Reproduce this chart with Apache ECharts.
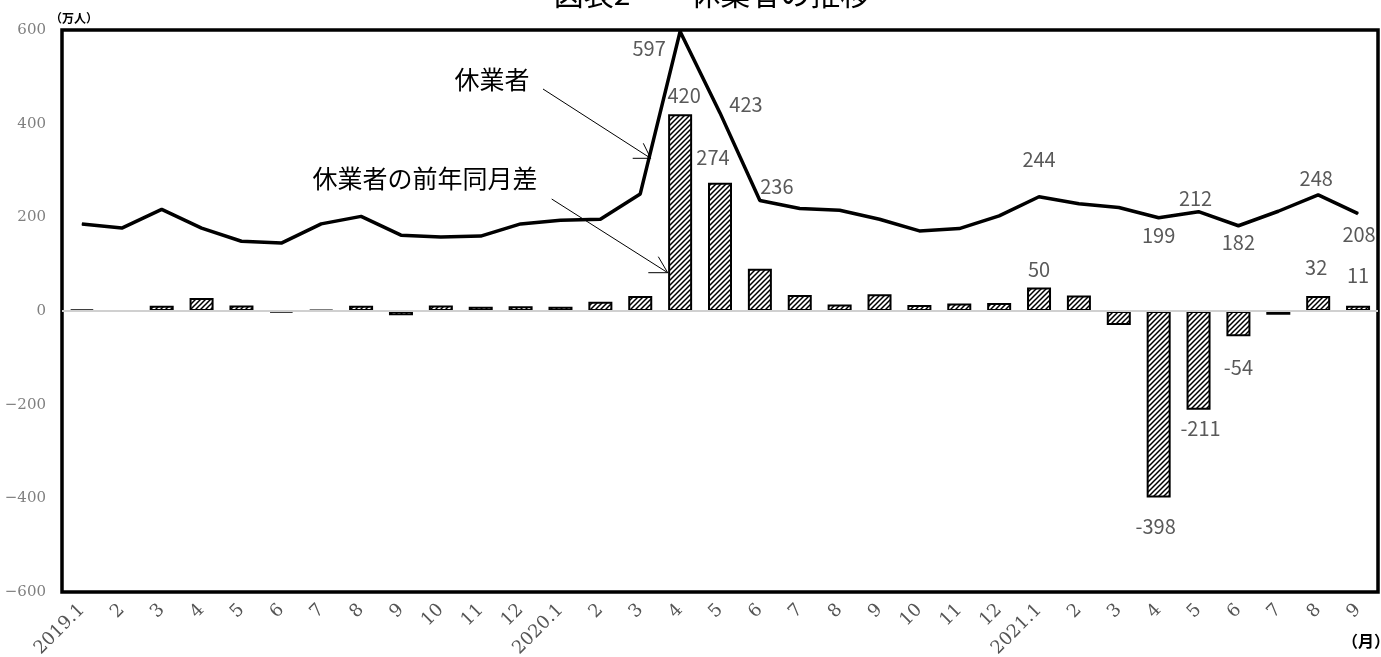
<!DOCTYPE html>
<html>
<head>
<meta charset="utf-8">
<title>休業者の推移</title>
<script src="https://cdn.jsdelivr.net/npm/echarts@6/dist/echarts.min.js"></script>
<style>
  html, body { margin: 0; padding: 0; background: #fff; }
  #chart { width: 1381px; height: 657px; }
</style>
</head>
<body>
<div id="chart"></div>
<script>
// Month labels, Jan 2019 – Sep 2021
const months = [
  '2019.1', '2', '3', '4', '5', '6', '7', '8', '9', '10', '11', '12',
  '2020.1', '2', '3', '4', '5', '6', '7', '8', '9', '10', '11', '12',
  '2021.1', '2', '3', '4', '5', '6', '7', '8', '9'
];

// 休業者 (万人)
const absentees = [
  186, 177, 217, 177, 149, 145, 186, 202, 162, 158, 160, 186,
  194, 196, 250, 597, 423, 236, 219, 215, 196, 171, 176, 203,
  244, 229, 221, 199, 212, 182, 213, 248, 208
];

// 休業者の前年同月差 (万人)
const yoyChange = [
  3, 0, 11, 28, 12, -3, 2, 11, -9, 12, 9, 10,
  9, 20, 32, 420, 274, 90, 34, 14, 36, 13, 16, 17,
  50, 33, -30, -398, -211, -54, -8, 32, 11
];

// Value axis range
const yMin = -600;
const yMax = 600;
const yStep = 200;

// Which points carry a value label, and where the label sits
const lineLabelOffsets = {
  15: [-31, 17], 16: [26, -8], 17: [17, -14], 24: [0, -37],
  27: [0, 18], 28: [-3, -13], 29: [0, 17], 31: [-2, -16], 32: [1, 21]
};
const barLabelOffsets = {
  15: [4, -4], 16: [-7, -10], 24: [0, -3], 27: [-3, 14],
  28: [2, 4], 29: [0, 16], 31: [-2, -14], 32: [0, -15]
};

// Diagonal hatch fill for the bars
function makeHatch() {
  const s = 5;
  const c = document.createElement('canvas');
  c.width = s; c.height = s;
  const g = c.getContext('2d');
  g.fillStyle = '#fff';
  g.fillRect(0, 0, s, s);
  g.strokeStyle = '#000';
  g.lineWidth = 1.5;
  g.beginPath();
  g.moveTo(-1, s + 1); g.lineTo(s + 1, -1);
  g.moveTo(-1, 1); g.lineTo(1, -1);
  g.moveTo(s - 1, s + 1); g.lineTo(s + 1, s - 1);
  g.stroke();
  return c;
}

const valueFont = {
  fontFamily: '"Noto Sans CJK JP", "Noto Sans", sans-serif',
  fontSize: 20,
  color: '#595959'
};

const lineData = absentees.map((v, i) => {
  const off = lineLabelOffsets[i];
  if (!off) return v;
  return {
    value: v,
    label: Object.assign({ show: true, position: 'inside', offset: off }, valueFont)
  };
});

const barData = yoyChange.map((v, i) => {
  const off = barLabelOffsets[i];
  if (!off) return v;
  return {
    value: v,
    label: Object.assign({ show: true, position: 'outside', distance: 5, offset: off }, valueFont)
  };
});

const chart = echarts.init(document.getElementById('chart'), null, { renderer: 'canvas' });

const cjk = '"Noto Sans CJK JP", "Noto Sans", sans-serif';

chart.setOption({
  animation: false,
  backgroundColor: '#fff',
  grid: {
    left: 62, right: 3, top: 30, bottom: 65,
    outerBoundsMode: 'none',
    containLabel: false,
    show: true,
    borderColor: '#000',
    borderWidth: 3.5,
    backgroundColor: 'transparent'
  },
  xAxis: {
    type: 'category',
    data: months,
    boundaryGap: true,
    axisLine: { show: false },
    axisTick: { show: false },
    splitLine: { show: false },
    axisLabel: {
      interval: 0,
      rotate: 45,
      margin: 15,
      fontFamily: '"DejaVu Serif", "Liberation Serif", serif',
      fontSize: 18,
      color: '#555'
    }
  },
  yAxis: {
    type: 'value',
    min: yMin,
    max: yMax,
    interval: yStep,
    axisLine: { show: false },
    axisTick: { show: false },
    splitLine: { show: false },
    axisLabel: {
      margin: 16,
      fontFamily: '"DejaVu Serif", "Liberation Serif", serif',
      fontSize: 15,
      color: '#808080',
      formatter: v => (v < 0 ? '\u2212' + Math.abs(v) : String(v))
    }
  },
  series: [
    {
      name: '休業者の前年同月差',
      type: 'bar',
      data: barData,
      barWidth: 24,
      z: 2,
      itemStyle: {
        color: { image: makeHatch(), repeat: 'repeat' },
        borderColor: '#000',
        borderWidth: 2
      },
      label: { show: false },
      markLine: {
        silent: true,
        symbol: ['none', 'none'],
        label: { show: false },
        lineStyle: { color: '#d0d0d0', width: 2, type: 'solid' },
        data: [{ yAxis: 0 }]
      }
    },
    {
      name: '休業者',
      type: 'line',
      data: lineData,
      z: 3,
      symbol: 'circle',
      symbolSize: 1,
      showSymbol: true,
      showAllSymbol: true,
      itemStyle: { color: '#000' },
      lineStyle: { color: '#000', width: 3.5 },
      label: { show: false }
    }
  ],
  graphic: [
    {
      type: 'text', x: 712, y: -6,
      style: {
        text: '図表2　　休業者の推移', fontFamily: cjk, fontSize: 30,
        fill: '#000', textAlign: 'center', textVerticalAlign: 'middle'
      }
    },
    {
      type: 'text', x: 74, y: 18,
      style: {
        text: '（万人）', fontFamily: cjk, fontSize: 12, fontWeight: 'bold',
        fill: '#000', textAlign: 'center', textVerticalAlign: 'middle'
      }
    },
    {
      type: 'text', x: 1342, y: 641,
      style: {
        text: '（月）', fontFamily: cjk, fontSize: 16, fontWeight: 'bold',
        fill: '#000', textAlign: 'left', textVerticalAlign: 'middle'
      }
    },
    {
      type: 'text', x: 492, y: 79,
      style: {
        text: '休業者', fontFamily: cjk, fontSize: 25,
        fill: '#000', textAlign: 'center', textVerticalAlign: 'middle'
      }
    },
    {
      type: 'text', x: 425, y: 178,
      style: {
        text: '休業者の前年同月差', fontFamily: cjk, fontSize: 25,
        fill: '#000', textAlign: 'center', textVerticalAlign: 'middle'
      }
    },
    // pointer to the line
    {
      type: 'line', shape: { x1: 543, y1: 89, x2: 650.7, y2: 158.3 },
      style: { stroke: '#000', lineWidth: 1 }
    },
    {
      type: 'polyline', shape: { points: [[632.7, 158.3], [650.7, 158.3], [643.3, 143.3]] },
      style: { stroke: '#000', lineWidth: 1, fill: null }
    },
    // pointer to the bars
    {
      type: 'line', shape: { x1: 551.7, y1: 199, x2: 667.7, y2: 272.7 },
      style: { stroke: '#000', lineWidth: 1 }
    },
    {
      type: 'polyline', shape: { points: [[648.3, 272.7], [667.7, 272.7], [658.3, 256.7]] },
      style: { stroke: '#000', lineWidth: 1, fill: null }
    }
  ]
});
</script>
</body>
</html>
